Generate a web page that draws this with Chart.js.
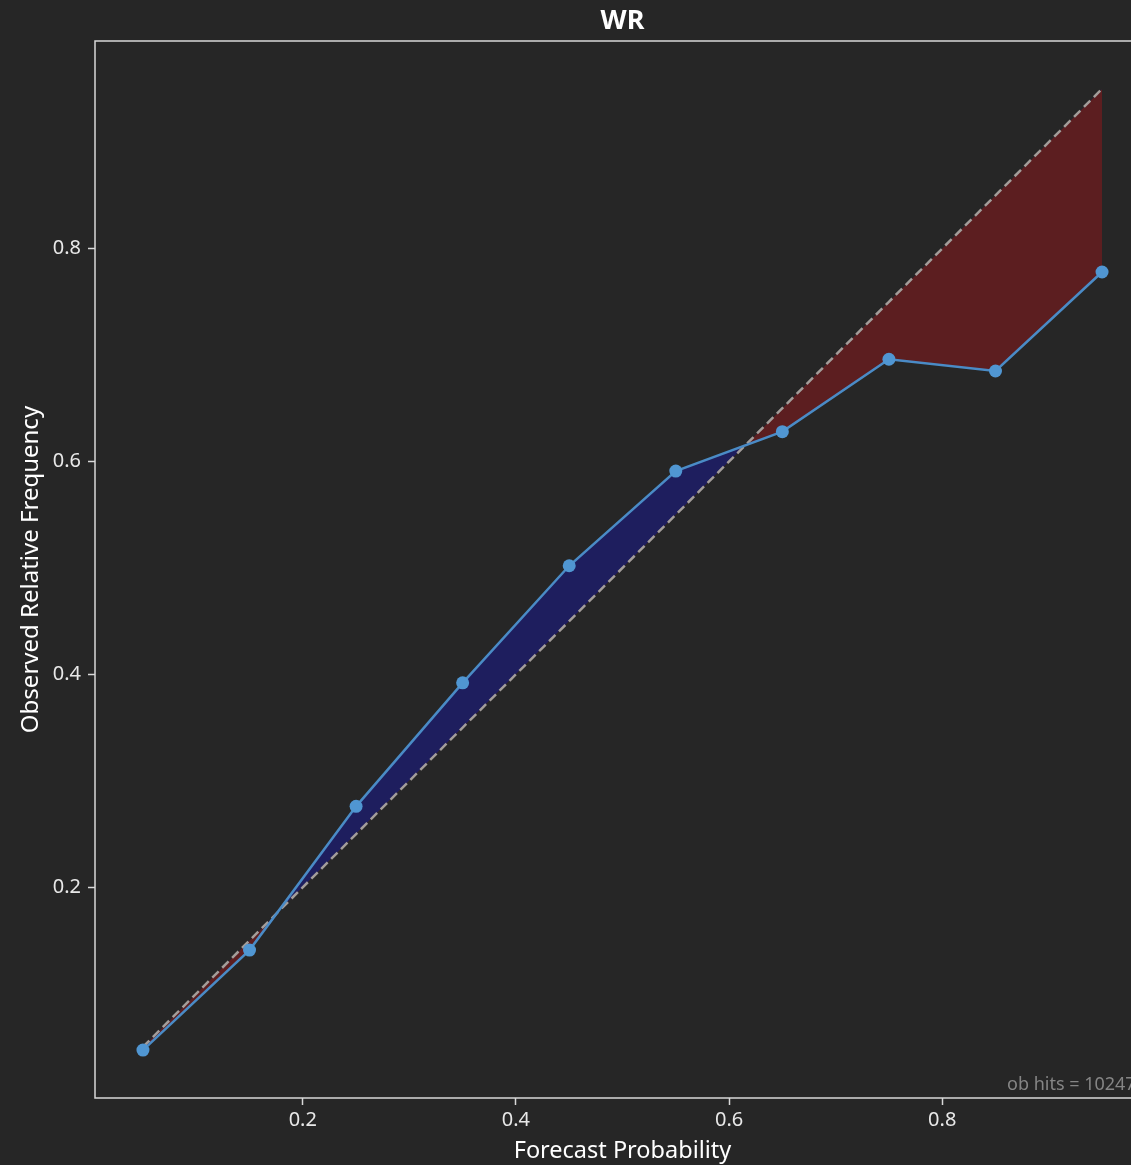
<!DOCTYPE html>
<html>
<head>
<meta charset="utf-8">
<script src="https://cdn.jsdelivr.net/npm/chart.js@4/dist/chart.umd.min.js"></script>
<style>
  html, body { margin: 0; padding: 0; background: #262626; overflow: hidden; width: 1131px; height: 1165px; }
  #wrap { position: absolute; left: 0; top: 0; width: 1200px; height: 1165px; }
</style>
</head>
<body>
<div id="wrap"><canvas id="c" width="1200" height="1165"></canvas></div>
<script>
// ---- data ----
const chartTitle = 'WR';
const forecastProb = [0.05, 0.15, 0.25, 0.35, 0.45, 0.55, 0.65, 0.75, 0.85, 0.95];
const observedFreq = [0.047, 0.141, 0.276, 0.392, 0.502, 0.591, 0.628, 0.696, 0.685, 0.778];
const perfectReliability = forecastProb; // y = x reference diagonal
const xTicks = [0.2, 0.4, 0.6, 0.8];
const yTicks = [0.2, 0.4, 0.6, 0.8];
const xLabel = 'Forecast Probability';
const yLabel = 'Observed Relative Frequency';
const noteText = 'ob hits = 10247';

const FONT = "'Noto Sans', 'Open Sans', sans-serif";

const framePlugin = {
  id: 'frame',
  afterDraw(chart) {
    const {ctx, chartArea: a} = chart;
    ctx.save();
    ctx.strokeStyle = '#d8d8d8';
    ctx.lineWidth = 1.5;
    ctx.strokeRect(a.left, a.top, a.right - a.left, a.bottom - a.top);
    ctx.fillStyle = '#ffffff';
    ctx.font = 'bold 27px ' + FONT;
    ctx.textAlign = 'center';
    ctx.textBaseline = 'middle';
    ctx.fillText(chartTitle, (a.left + a.right) / 2, 21);
    ctx.fillStyle = '#858585';
    ctx.font = '18px ' + FONT;
    ctx.textAlign = 'left';
    ctx.textBaseline = 'alphabetic';
    ctx.fillText(noteText, a.right - 143, a.bottom - 8);
    ctx.restore();
  }
};

const bgPlugin = {
  id: 'bg',
  beforeDraw(chart) {
    const {ctx} = chart;
    ctx.save();
    ctx.fillStyle = '#262626';
    ctx.fillRect(0, 0, chart.width, chart.height);
    ctx.restore();
  }
};

new Chart(document.getElementById('c'), {
  type: 'line',
  data: {
    datasets: [
      {
        label: 'observed',
        data: forecastProb.map((x, i) => ({x, y: observedFreq[i]})),
        borderColor: '#4a8bc6',
        backgroundColor: '#4a8bc6',
        borderWidth: 2.5,
        pointRadius: 6.5,
        pointBackgroundColor: '#5096d2',
        pointBorderWidth: 0,
        tension: 0,
        fill: { target: 1, above: '#1e1e5e', below: '#5c1e20' }
      },
      {
        label: 'perfect',
        data: forecastProb.map((x, i) => ({x, y: perfectReliability[i]})),
        borderColor: '#a39d9a',
        borderWidth: 2.5,
        borderDash: [9, 5],
        pointRadius: 0,
        fill: false,
        tension: 0
      }
    ]
  },
  options: {
    responsive: false,
    animation: false,
    layout: { padding: { left: 0, top: 41, right: 50, bottom: 0 } },
    plugins: {
      legend: { display: false },
      title: { display: false },
      tooltip: { enabled: false },
      filler: { drawTime: 'beforeDatasetsDraw' }
    },
    scales: {
      x: {
        type: 'linear',
        min: 0.005,
        max: 0.995,
        afterBuildTicks: s => { s.ticks = xTicks.map(v => ({value: v})); },
        afterFit: s => { s.height = 67; },
        grid: { display: true, drawOnChartArea: false, drawTicks: true, tickLength: 7, color: '#d8d8d8', tickWidth: 1.5 },
        border: { display: false },
        ticks: { color: '#e8e8e8', font: { family: FONT, size: 20 }, padding: 3, maxRotation: 0,
                 callback: v => v.toFixed(1) },
        title: { display: true, text: xLabel, color: '#ffffff', font: { family: FONT, size: 23.5 }, padding: { top: 0, bottom: 0 } }
      },
      y: {
        type: 'linear',
        min: 0.002,
        max: 0.995,
        afterBuildTicks: s => { s.ticks = yTicks.map(v => ({value: v})); },
        afterFit: s => { s.width = 95; },
        grid: { display: true, drawOnChartArea: false, drawTicks: true, tickLength: 7, color: '#d8d8d8', tickWidth: 1.5 },
        border: { display: false },
        ticks: { color: '#e8e8e8', font: { family: FONT, size: 20 }, padding: 7,
                 callback: v => v.toFixed(1) },
        title: { display: true, text: yLabel, color: '#ffffff', font: { family: FONT, size: 24 }, padding: { top: 17, bottom: 0 } }
      }
    }
  },
  plugins: [bgPlugin, framePlugin]
});
</script>
</body>
</html>
